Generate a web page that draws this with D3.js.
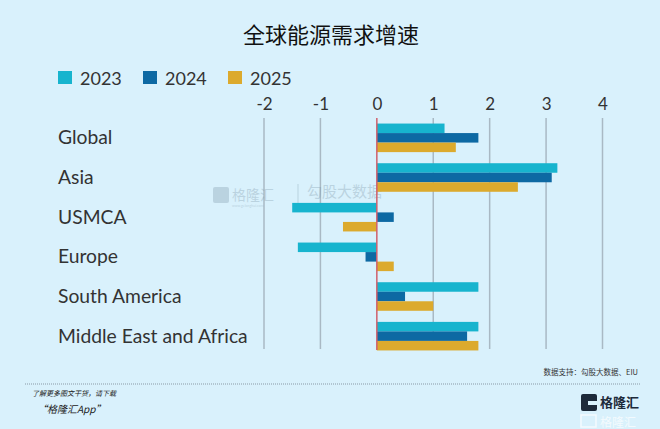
<!DOCTYPE html>
<html><head><meta charset="utf-8">
<script src="https://cdn.jsdelivr.net/npm/d3@7"></script>
<style>
html,body{margin:0;padding:0;background:#d9f1fc;}
svg{display:block;}
</style></head>
<body>
<script>
const categories = ["Global","Asia","USMCA","Europe","South America","Middle East and Africa"];
const years = ["2023","2024","2025"];
const values2023 = [1.2, 3.2, -1.5, -1.4, 1.8, 1.8];
const values2024 = [1.8, 3.1, 0.3, -0.2, 0.5, 1.6];
const values2025 = [1.4, 2.5, -0.6, 0.3, 1.0, 1.8];
const tickValues = [-2,-1,0,1,2,3,4];
const colors = ["#17b4ce","#0d69a3","#dcaa2d"];

const series = [values2023, values2024, values2025];
const W = 660, H = 429;
const svg = d3.select("body").append("svg").attr("width", W).attr("height", H);
svg.append("rect").attr("width", W).attr("height", H).attr("fill", "#d9f1fc");

const font = "Lato, 'Open Sans', sans-serif";
const cjk = "'Noto Sans CJK SC', sans-serif";

// title
svg.append("text").attr("x", 331).attr("y", 43).attr("text-anchor","middle")
  .attr("font-family", cjk).attr("font-size", 22).attr("font-weight", 400)
  .attr("fill", "#111").text("全球能源需求增速");

// legend
const legX = [58, 143, 228];
years.forEach((yr,i)=>{
  svg.append("rect").attr("x", legX[i]).attr("y", 71).attr("width", 14).attr("height", 13).attr("fill", colors[i]);
  svg.append("text").attr("x", legX[i]+22).attr("y", 84.5).attr("font-family", font)
    .attr("font-size", 18).attr("fill", "#333").text(yr);
});

const x = d3.scaleLinear().domain([-2,4]).range([264, 602.5]);
const y = d3.scaleBand().domain(categories).range([118, 356]).paddingInner(0.28).paddingOuter(0.14);
const y1 = d3.scaleBand().domain(years).range([0, y.bandwidth()]).padding(0);

// axis on top
const axis = d3.axisTop(x).tickValues(tickValues).tickSize(0).tickPadding(0)
  .tickFormat(d=>d3.format("d")(d).replace("−","-"));
const gAxis = svg.append("g").attr("transform","translate(0,110)").call(axis);
gAxis.select(".domain").remove();
gAxis.selectAll("text").attr("font-family", font).attr("font-size", 17).attr("fill","#333");

// grid
svg.append("g").selectAll("line").data(tickValues.filter(d=>d!==0)).join("line")
  .attr("x1", d=>x(d)).attr("x2", d=>x(d)).attr("y1", 118).attr("y2", 349)
  .attr("stroke", "#a9b9c4").attr("stroke-width", 1.5);

// watermark
const wm = svg.append("g").attr("opacity", 0.28).attr("fill", "#6d8799");
wm.append("rect").attr("x", 213).attr("y", 187).attr("width", 16).attr("height", 16).attr("rx", 2);
wm.append("text").attr("x", 232).attr("y", 200).attr("font-family", cjk).attr("font-size", 14).text("格隆汇");
wm.append("text").attr("x", 232).attr("y", 207).attr("font-family", font).attr("font-size", 3.5).text("www.gelonghui.com");
wm.append("line").attr("x1", 298).attr("x2", 298).attr("y1", 184).attr("y2", 208).attr("stroke", "#6d8799").attr("stroke-width", 1);
wm.append("text").attr("x", 307).attr("y", 197).attr("font-family", cjk).attr("font-size", 15).text("勾股大数据");
wm.append("text").attr("x", 307).attr("y", 207).attr("font-family", font).attr("font-size", 6).attr("font-weight", 700).text("www.gogudata.com");

// bars
const gBars = svg.append("g");
categories.forEach((c,ci)=>{
  years.forEach((yr,si)=>{
    const v = series[si][ci];
    gBars.append("rect")
      .attr("x", x(Math.min(0,v))).attr("width", Math.abs(x(v)-x(0)))
      .attr("y", y(c)+y1(yr)).attr("height", y1.bandwidth())
      .attr("fill", colors[si]);
  });
});

// zero line
svg.append("line").attr("x1", x(0)).attr("x2", x(0)).attr("y1", 118).attr("y2", 350)
  .attr("stroke", "#d0606c").attr("stroke-width", 1.5);

// category labels
svg.append("g").selectAll("text").data(categories).join("text")
  .attr("x", 58).attr("y", d=>y(d)+y.bandwidth()/2+6.5)
  .attr("font-family", font).attr("font-size", 19.3).attr("fill", "#333").text(d=>d);

// footer
svg.append("text").attr("x", 638).attr("y", 375).attr("text-anchor","end")
  .attr("font-family", cjk).attr("font-size", 7.5).attr("fill","#333").text("数据支持：勾股大数据、EIU");
svg.append("line").attr("x1", 25).attr("x2", 640).attr("y1", 384).attr("y2", 384)
  .attr("stroke", "#8a9aa6").attr("stroke-width", 1.2).attr("stroke-dasharray", "1,1");
svg.append("text").attr("x", 32).attr("y", 396).attr("font-family", cjk).attr("font-size", 7)
  .attr("font-style","italic").attr("fill","#222").text("了解更多图文干货，请下载");
svg.append("text").attr("x", 37).attr("y", 413).attr("font-family", cjk).attr("font-size", 10)
  .attr("font-style","italic").attr("fill","#222").text("“格隆汇App”");
// logo
svg.append("rect").attr("x", 581).attr("y", 394).attr("width", 16).attr("height", 17).attr("rx", 2).attr("fill", "#1d2a3a");
svg.append("rect").attr("x", 588).attr("y", 401).attr("width", 9).attr("height", 4).attr("fill", "#d9f1fc");
svg.append("text").attr("x", 600).attr("y", 407).attr("font-family", cjk).attr("font-size", 13)
  .attr("font-weight", 700).attr("fill","#1d2a3a").text("格隆汇");
svg.append("text").attr("x", 600).attr("y", 427).attr("font-family", cjk).attr("font-size", 12)
  .attr("fill","#ffffff").attr("opacity", 0.7).text("格隆汇");
svg.append("rect").attr("x", 581).attr("y", 415).attr("width", 15).attr("height", 12).attr("fill", "none")
  .attr("stroke", "#ffffff").attr("stroke-width", 1.5).attr("opacity", 0.7);
</script>
</body></html>
